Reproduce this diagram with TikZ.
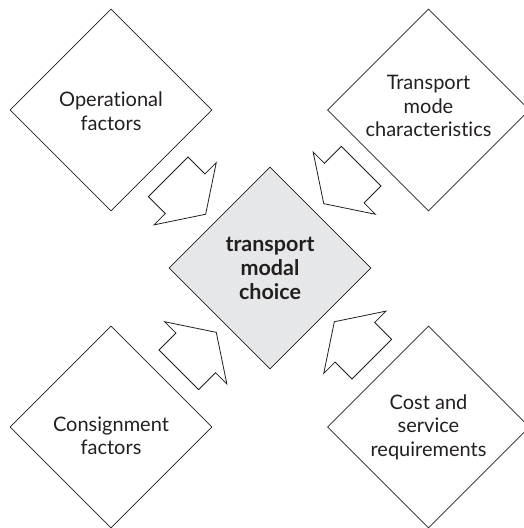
\documentclass[tikz,border=0pt]{standalone}
\usepackage{fontspec}
\setmainfont{Lato}[Ligatures={NoCommon,NoContextual}]
\usetikzlibrary{shapes.geometric}
\definecolor{boxgray}{RGB}{230,231,232}
\definecolor{ink}{RGB}{35,31,32}
\begin{document}
\begin{tikzpicture}[x=1pt,y=1pt,
  box/.style={diamond, draw=ink, line width=0.8pt, minimum width=202pt,
    minimum height=202pt, inner sep=0pt},
  boxtext/.style={align=center, text=ink, inner sep=0pt,
    font=\fontsize{20}{23.5}\selectfont},
  hub/.style={box, fill=boxgray, align=center, text=ink,
    font=\fontsize{21.5}{24}\selectfont\bfseries},
  blockarrow/.style={draw=ink, line width=0.8pt, fill=white, line join=miter}]
\useasboundingbox (0,0) rectangle (523,528);
\node[hub] (hub) at (270,260) {transport\\modal\\choice};
\node[box, label={[boxtext, yshift=-1pt]center:Operational\\factors}] (op) at (111,418) {};
\node[box, label={[boxtext, yshift=4pt]center:Transport\\mode\\characteristics}] (tm) at (428.5,418) {};
\node[box, label={[boxtext, yshift=-9pt]center:Consignment\\factors}] (cf) at (111,101) {};
\node[box, label={[boxtext]center:Cost and\\service\\requirements}] (cs) at (428.5,101) {};
\foreach \a in {45,135,225,315} {
  \begin{scope}[shift={(hub.center)}, rotate=\a]
    \draw[blockarrow] (83.5,7.5) -- (112.5,51.5) -- (112.5,35.5) -- (136.5,35.5)
      -- (136.5,-20.5) -- (112.5,-20.5) -- (112.5,-36.5) -- cycle;
  \end{scope}
}
\end{tikzpicture}
\end{document}
